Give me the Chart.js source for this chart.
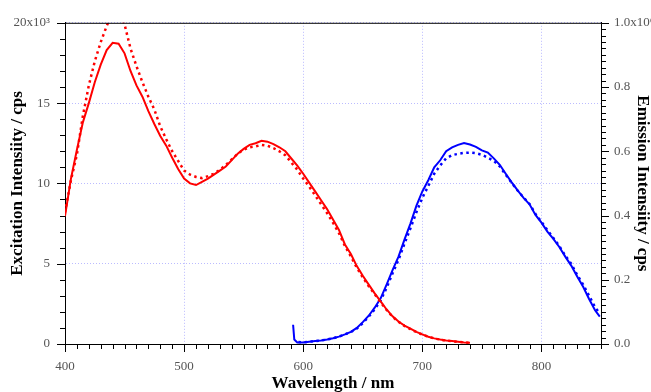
<!DOCTYPE html>
<html>
<head>
<meta charset="utf-8">
<script src="https://cdn.jsdelivr.net/npm/chart.js@4/dist/chart.umd.min.js"></script>
<style>
  html, body { margin: 0; padding: 0; background: #fff; }
</style>
</head>
<body>
<canvas id="spectra" width="651" height="392"></canvas>
<script>
// excitation spectra, 400-740 nm every 5 nm (left axis, x10^3 cps)
const excWavelengths = [];
for (let w = 400; w <= 740; w += 5) excWavelengths.push(w);

const excitationSolid = [
  7.96, 10.3, 12.1, 13.8, 15.0, 16.3, 17.4, 18.3, 18.75, 18.7,
  18.1, 17.0, 16.1, 15.4, 14.5, 13.7, 12.95, 12.35, 11.6, 10.9,
  10.3, 10.0, 9.9, 10.1, 10.3, 10.55, 10.8, 11.05, 11.45, 11.85,
  12.15, 12.4, 12.5, 12.65, 12.6, 12.45, 12.25, 12.0, 11.55, 11.1,
  10.6, 10.05, 9.5, 8.95, 8.4, 7.75, 7.1, 6.2, 5.6, 4.85,
  4.25, 3.7, 3.15, 2.65, 2.15, 1.72, 1.4, 1.15, 0.95, 0.75,
  0.6, 0.45, 0.35, 0.28, 0.22, 0.18, 0.14, 0.1, 0.08
];
const excitationDotted = [
  8.2, 10.2, 11.8, 14.2, 16.1, 17.6, 18.8, 19.8, 20.6, 20.7,
  19.9, 18.4, 17.3, 16.3, 15.4, 14.6, 13.55, 12.75, 12.0, 11.4,
  10.8, 10.55, 10.4, 10.33, 10.45, 10.6, 10.85, 11.15, 11.5, 11.85,
  12.1, 12.25, 12.3, 12.4, 12.35, 12.2, 12.0, 11.75, 11.3, 10.85,
  10.3, 9.8, 9.25, 8.7, 8.15, 7.55, 6.9, 6.1, 5.45, 4.75,
  4.15, 3.6, 3.1, 2.6, 2.12, 1.7, 1.38, 1.13, 0.93, 0.74,
  0.59, 0.45, 0.35, 0.27, 0.21, 0.17, 0.13, 0.1, 0.08
];

// emission spectra (right axis, x10^6 cps)
const emWavelengthsSolid = [591.5, 592.5, 595];
for (let w = 600; w <= 845; w += 5) emWavelengthsSolid.push(w);
emWavelengthsSolid.push(849);
const emissionSolid = [
  0.06, 0.014, 0.005,
  0.005, 0.007, 0.009, 0.011, 0.014, 0.018, 0.023, 0.03, 0.038, 0.05,
  0.068, 0.088, 0.113, 0.142, 0.185, 0.23, 0.272, 0.325, 0.375, 0.43,
  0.475, 0.51, 0.55, 0.572, 0.6, 0.612, 0.62, 0.626, 0.621, 0.614,
  0.603, 0.596, 0.578, 0.558, 0.53, 0.503, 0.478, 0.455, 0.435, 0.402,
  0.378, 0.35, 0.327, 0.302, 0.272, 0.244, 0.21, 0.178, 0.14, 0.105,
  0.085
];

const emWavelengthsDotted = [596];
for (let w = 600; w <= 845; w += 5) emWavelengthsDotted.push(w);
emWavelengthsDotted.push(849);
const emissionDotted = [
  0.006,
  0.005, 0.007, 0.009, 0.011, 0.014, 0.018, 0.023, 0.03, 0.037, 0.048,
  0.065, 0.085, 0.108, 0.136, 0.175, 0.22, 0.262, 0.312, 0.36, 0.41,
  0.455, 0.492, 0.53, 0.556, 0.578, 0.588, 0.592, 0.595, 0.596, 0.594,
  0.589, 0.58, 0.57, 0.553, 0.527, 0.502, 0.478, 0.456, 0.436, 0.405,
  0.38, 0.355, 0.33, 0.305, 0.275, 0.25, 0.215, 0.185, 0.15, 0.115,
  0.095
];

const xTicks = [400, 500, 600, 700, 800];
const leftTicks = [0, 5, 10, 15, 20];
const rightTicks = [0, 0.2, 0.4, 0.6, 0.8, 1.0];

const toPoints = (xs, ys) => xs.map((x, i) => ({ x, y: ys[i] }));

const serif = '"Liberation Serif", "DejaVu Serif", serif';
const gridDots = 'rgba(120, 120, 255, 0.5)';

// black frame on top plus major/minor outward tick marks
const frameTicks = {
  id: 'frameTicks',
  afterDraw(chart) {
    const { ctx, chartArea: a, scales } = chart;
    ctx.save();
    ctx.strokeStyle = '#000';
    ctx.lineWidth = 1;
    ctx.beginPath();
    ctx.moveTo(a.left, a.top + 0.5);
    ctx.lineTo(a.right, a.top + 0.5);
    for (let v = 400; v <= 850; v += 10) {
      const px = Math.round(scales.x.getPixelForValue(v)) + 0.5;
      const len = v % 100 === 0 ? 8 : 5;
      ctx.moveTo(px, a.bottom);
      ctx.lineTo(px, a.bottom + len);
    }
    for (let v = 0; v <= 20; v++) {
      const py = Math.round(scales.y.getPixelForValue(v)) + 0.5;
      const len = v % 5 === 0 ? 8 : 5;
      ctx.moveTo(a.left, py);
      ctx.lineTo(a.left - len, py);
    }
    for (let i = 0; i <= 50; i++) {
      const py = Math.round(scales.y1.getPixelForValue(i / 50)) + 0.5;
      const len = i % 10 === 0 ? 8 : 5;
      ctx.moveTo(a.right, py);
      ctx.lineTo(a.right + len, py);
    }
    ctx.stroke();
    ctx.restore();
  }
};

new Chart(document.getElementById('spectra'), {
  type: 'line',
  data: {
    datasets: [
      {
        data: toPoints(excWavelengths, excitationSolid),
        yAxisID: 'y',
        borderColor: '#ff0000',
        borderWidth: 2
      },
      {
        data: toPoints(excWavelengths, excitationDotted),
        yAxisID: 'y',
        borderColor: '#ff0000',
        borderWidth: 2.5,
        borderDash: [2.5, 3.5]
      },
      {
        data: toPoints(emWavelengthsSolid, emissionSolid),
        yAxisID: 'y1',
        borderColor: '#0000ff',
        borderWidth: 2
      },
      {
        data: toPoints(emWavelengthsDotted, emissionDotted),
        yAxisID: 'y1',
        borderColor: '#0000ff',
        borderWidth: 2.5,
        borderDash: [2.5, 3.5]
      }
    ]
  },
  options: {
    responsive: false,
    animation: false,
    layout: { padding: { top: 20, left: 0, right: 0, bottom: 0 } },
    elements: { point: { radius: 0 }, line: { tension: 0 } },
    plugins: { legend: { display: false }, tooltip: { enabled: false } },
    scales: {
      x: {
        type: 'linear',
        min: 400,
        max: 850,
        afterFit: (s) => { s.height = 48; },
        afterBuildTicks: (s) => { s.ticks = xTicks.map((value) => ({ value })); },
        grid: { color: gridDots, drawTicks: false },
        border: { color: '#000', width: 1, dash: [1, 2] },
        ticks: {
          padding: 15,
          color: '#555',
          font: { family: serif, size: 13 },
          callback: (v) => String(v)
        },
        title: {
          display: true,
          text: 'Wavelength / nm',
          color: '#000',
          font: { family: serif, size: 17, weight: 'bold', lineHeight: 1 },
          padding: { top: 0, bottom: 0 }
        }
      },
      y: {
        position: 'left',
        min: 0,
        max: 20,
        afterFit: (s) => { s.width = 65; },
        afterBuildTicks: (s) => { s.ticks = leftTicks.map((value) => ({ value })); },
        grid: { color: gridDots, drawTicks: false },
        border: { color: '#000', width: 1, dash: [1, 2] },
        ticks: {
          padding: 15,
          color: '#555',
          font: { family: serif, size: 13 },
          callback: (v) => (v === 20 ? '20x10\u00b3' : String(v))
        },
        title: {
          display: true,
          text: 'Excitation Intensiity / cps',
          color: '#000',
          font: { family: serif, size: 17, weight: 'bold', lineHeight: 1 },
          padding: { top: 9, bottom: 0 }
        }
      },
      y1: {
        position: 'right',
        min: 0,
        max: 1,
        afterFit: (s) => { s.width = 50; },
        afterBuildTicks: (s) => { s.ticks = rightTicks.map((value) => ({ value })); },
        grid: { drawOnChartArea: false, drawTicks: false },
        border: { color: '#000', width: 1 },
        ticks: {
          padding: 13,
          color: '#555',
          font: { family: serif, size: 13 },
          callback: (v) => (v === 1 ? '1.0x10\u2076' : v.toFixed(1))
        },
        title: {
          display: true,
          text: 'Emission Intensiity / cps',
          color: '#000',
          font: { family: serif, size: 17, weight: 'bold', lineHeight: 1 },
          padding: { top: 0, bottom: 0 }
        }
      }
    }
  },
  plugins: [frameTicks]
});
</script>
</body>
</html>
